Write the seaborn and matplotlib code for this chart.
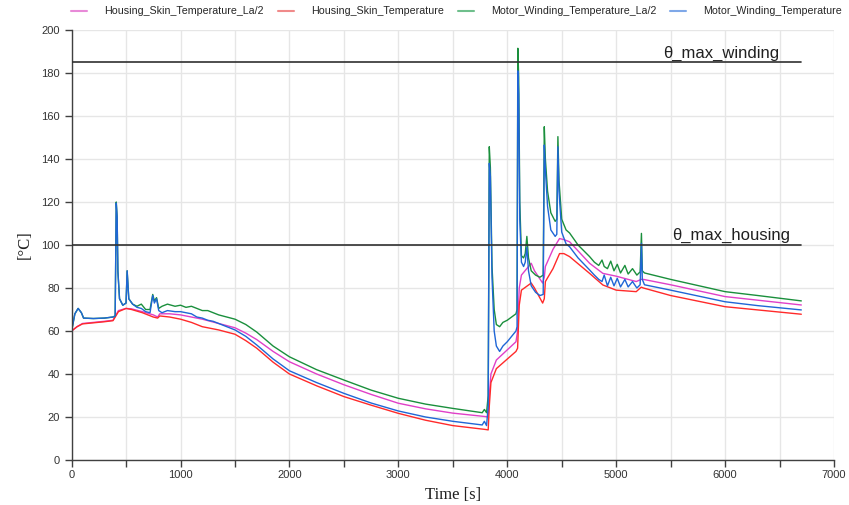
import matplotlib
matplotlib.use("Agg")
import matplotlib.pyplot as plt
from matplotlib.ticker import MultipleLocator
from matplotlib.lines import Line2D
import seaborn as sns

# ---------------- data ----------------
motor_time = [0, 30, 60, 90, 110, 200, 300, 380, 400, 410, 418, 425, 440, 470, 500, 510, 525,
              560, 600, 640, 680, 720, 745, 760, 780, 800, 830, 880, 950, 1000, 1050, 1100,
              1150, 1200, 1250, 1300, 1350, 1500, 1600, 1700, 1850, 2000, 2250, 2500, 2750,
              3000, 3250, 3500, 3770, 3790, 3810, 3825, 3835, 3845, 3860, 3880, 3900, 3930,
              3960, 4000, 4040, 4080, 4090, 4097, 4105, 4115, 4130, 4150, 4165, 4180, 4195,
              4220, 4260, 4300, 4330, 4340, 4350, 4370, 4400, 4440, 4455, 4465, 4475, 4500,
              4540, 4572, 4650, 4756, 4800, 4840, 4870, 4890, 4920, 4950, 4980, 5010, 5040,
              5080, 5110, 5150, 5190, 5220, 5232, 5240, 5260, 5500, 6000, 6300, 6700]
winding_la2 = [60, 68, 70.5, 68.5, 66, 65.8, 66, 66.5, 67, 120, 113, 88, 75, 72, 73, 88, 75,
               72.5, 71.5, 72.5, 70, 70, 77, 74, 75.5, 70.5, 71.5, 72.5, 71.5, 72, 71, 71.5,
               70.5, 69.5, 69.5, 68.5, 67.5, 65.5, 63, 59.5, 53, 48, 42, 37.2, 32.5,
               28.7, 26, 24, 22, 23.5, 22, 30, 145.7, 136, 90, 70, 63, 62,
               64, 65, 66.5, 68, 70, 191.5, 178, 120, 95, 94, 96, 104, 94,
               88, 86, 85, 86, 155, 140, 125, 115, 111, 112, 150.4, 130, 112,
               107, 105.6, 100, 94.6, 92, 90.5, 93, 90, 89, 92.5, 88, 91, 87,
               90.5, 86.5, 89, 86, 87.5, 105.4, 88, 87, 84, 78.3, 76.5, 74]
winding = [60, 68, 70.5, 68.5, 66, 65.8, 66, 66.5, 67, 119.5, 113, 87.5, 75, 72, 73, 88, 75,
           72.5, 71, 70.5, 69, 68.5, 76.5, 73, 75, 69.5, 68.5, 69.5, 69, 69, 68.5, 68,
           66.5, 66, 65, 64.5, 63.5, 60.5, 57.5, 53.5, 47, 41.5, 36, 31, 26.5,
           22.8, 20, 18, 16.3, 18, 16, 25, 138, 132, 85, 60, 53, 50.5,
           53, 55, 57.5, 60, 62, 181, 170, 112, 92, 90, 92, 99, 88,
           81, 78, 76.5, 77, 146.5, 135, 118, 107, 104, 105, 145.7, 125, 106,
           100.5, 99.2, 94, 88.4, 86, 84, 83, 86, 81, 85, 81, 84.5, 80.5,
           84, 80.5, 83, 80, 81.5, 100.8, 84, 81.5, 79, 73.6, 71.8, 69.8]

housing_time = [0, 50, 100, 200, 300, 380, 430, 500, 550, 650, 750, 790, 810, 900, 1000, 1100,
                1200, 1350, 1500, 1600, 1700, 1850, 2000, 2250, 2500, 2750, 3000, 3250, 3500,
                3800, 3825, 3835, 3850, 3900, 4080, 4095, 4110, 4130, 4220, 4250, 4325, 4340,
                4350, 4420, 4480, 4520, 4572, 4756, 4878, 5000, 5184, 5230, 5250, 5500, 6000,
                6700]
housing_la2 = [60, 62, 63.5, 64, 64.5, 65, 69.5, 70.5, 70.3, 69, 67.5, 66.5, 68, 68, 67.5, 66.5,
               65.5, 63.5, 61.5, 59, 56, 50.5, 45.7, 40, 35, 30.5, 26.4, 23.8, 21.8,
               20.2, 20, 30, 40, 46.5, 55, 60, 80, 86, 91.5, 88, 82.3, 85,
               90, 98, 103, 102.5, 101.5, 91.5, 86.8, 85.5, 83, 84, 84, 81.5, 76,
               72.1]
housing = [60, 62, 63.3, 63.8, 64.3, 64.8, 69, 70.5, 70, 68.5, 66.5, 66, 67, 66.5, 65.5, 64,
           62, 60.5, 58.5, 55.5, 52, 45.5, 40, 34.5, 29.5, 25.5, 21.7, 18.5, 16,
           14.2, 14, 25, 36, 42.5, 50.5, 52, 72, 79, 82.3, 80, 73, 75,
           83, 89, 96, 96, 94.6, 86.8, 81.4, 79, 78.3, 80.4, 80, 76.5, 71.3,
           67.8]

limit_values = [185, 100]
limit_labels = ["θ_max_winding", "θ_max_housing"]
limit_end = 6700

series_names = ["Housing_Skin_Temperature_La/2", "Housing_Skin_Temperature",
                "Motor_Winding_Temperature_La/2", "Motor_Winding_Temperature"]

# ---------------- style ----------------
sns.set_style("whitegrid")
plt.rcParams['font.family'] = ['Liberation Sans', 'DejaVu Sans']

line_colors = ["#e040c8", "#ff2a2a", "#1a8f3c", "#1f66d6"]
legend_colors = ["#e88ad8", "#f08a8a", "#6fbf8c", "#7fa8e8"]

fig = plt.figure(figsize=(8.49, 5.05), dpi=100)
ax = fig.add_axes([71.6 / 849, 1 - 460 / 505, (834 - 71.6) / 849, (460 - 30) / 505])

data = [(housing_time, housing_la2), (housing_time, housing),
        (motor_time, winding_la2), (motor_time, winding)]
for (t, v), c in zip(data, line_colors):
    sns.lineplot(x=t, y=v, ax=ax, color=c, linewidth=1.0, estimator=None, sort=True)

for val, lab, ha_x in zip(limit_values, limit_labels, [6500, 6600]):
    ax.plot([0, limit_end], [val, val], color="#303030", linewidth=1.2, zorder=5)
    ax.text(ha_x, val + 0.8, lab, ha="right", va="bottom", fontsize=12,
            color="#202020", family=["Liberation Sans", "DejaVu Sans"])

ax.set_xlim(0, 7000)
ax.set_ylim(0, 200)
ax.xaxis.set_major_locator(MultipleLocator(1000))
ax.xaxis.set_minor_locator(MultipleLocator(500))
ax.yaxis.set_major_locator(MultipleLocator(20))
ax.grid(which="both", color="#e6e6e6", linewidth=1.0)
ax.set_axisbelow(True)

for s in ["top", "right"]:
    ax.spines[s].set_visible(False)
for s in ["left", "bottom"]:
    ax.spines[s].set_color("#404040")
    ax.spines[s].set_linewidth(1.0)

ax.tick_params(axis="both", which="both", direction="out", length=5, width=1,
               color="#404040", labelsize=8, labelcolor="#333333",
               bottom=True, left=True)
ax.tick_params(axis="x", pad=2)

ax.set_xlabel("Time [s]", family=["Liberation Serif"], fontsize=12, color="#202020", labelpad=5)
ax.set_ylabel("[°C]", family=["Liberation Serif"], fontsize=12, color="#202020", labelpad=6)

handles = [Line2D([0], [0], color=c, linewidth=1.5) for c in legend_colors]
fig.legend(handles, series_names, loc="upper left", bbox_to_anchor=(65 / 849, 1.0),
           ncol=4, frameon=False, fontsize=7.7, handlelength=1.5, handletextpad=1.6,
           columnspacing=1.3, borderaxespad=0.2)

fig.savefig("out.png", dpi=100)
